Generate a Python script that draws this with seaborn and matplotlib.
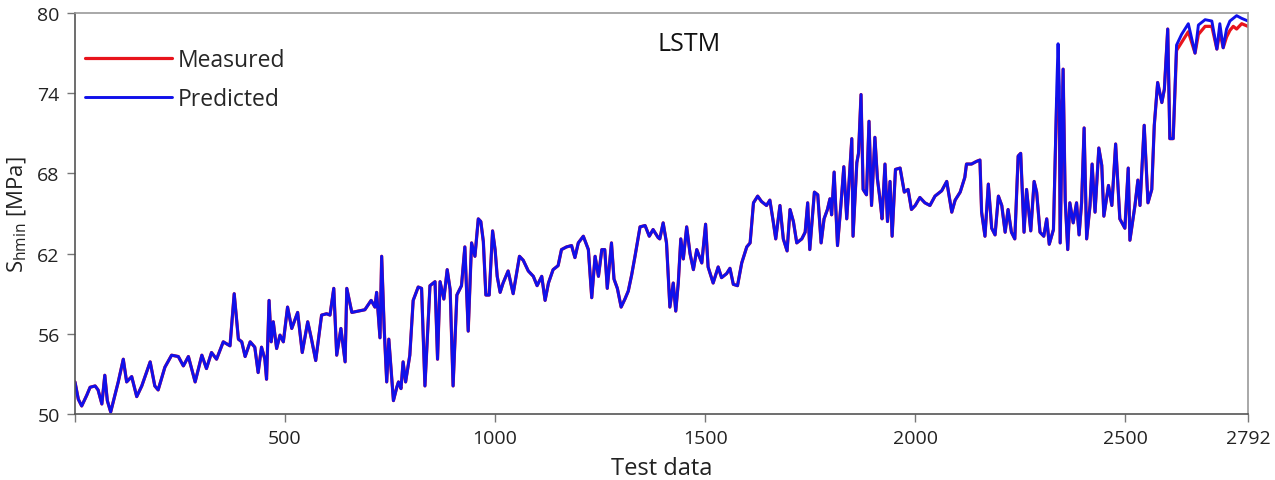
import numpy as np
import pandas as pd
import matplotlib
matplotlib.use("Agg")
import matplotlib.pyplot as plt
import seaborn as sns

# Test data index and S_hmin values
# --- part where measured and predicted overlap (0 .. 2319)
head_idx = [0, 8, 16, 28, 36, 48, 55, 64, 71, 77, 85, 91, 103, 115, 123, 135, 147, 159, 179, 190,
            198, 214, 230, 246, 258, 270, 286, 302, 313, 325, 337, 353, 369, 379, 389, 397, 405, 417, 428, 436,
            444, 452, 456, 462,
            467, 472, 480, 488, 496, 506, 516, 530, 541, 554, 563, 573, 587, 599, 607, 616, 623, 633, 643, 647,
            659, 674, 690, 705, 714, 718, 726, 730, 736, 742, 747, 758,
            766, 770, 776, 781, 787, 797, 805, 817, 825, 833, 845, 857, 863, 869, 878, 886, 893, 900, 909, 920,
            928, 936, 944, 952, 960, 966, 972, 978, 986, 994, 1000, 1005, 1012, 1019, 1031, 1043, 1058, 1067, 1079, 1091,
            1100, 1111, 1119, 1127, 1138, 1150, 1158, 1170, 1182, 1190, 1198, 1210, 1222, 1230, 1238, 1246, 1254, 1261, 1267, 1277,
            1283, 1291, 1300, 1309, 1317, 1325, 1333, 1345, 1357, 1367, 1376, 1380, 1388,
            1392, 1400, 1408, 1416, 1424, 1430, 1436, 1442, 1448, 1456, 1464, 1472, 1480, 1492, 1501, 1507, 1519, 1531, 1539, 1551,
            1559, 1567, 1577, 1587, 1599, 1607, 1615, 1625, 1634, 1646, 1654, 1662, 1668, 1678, 1686, 1695, 1702, 1710, 1718, 1730,
            1738, 1744, 1749, 1760, 1768, 1776, 1783, 1791, 1797, 1801, 1807, 1815, 1823, 1830, 1837, 1849, 1852, 1861, 1865, 1871,
            1876, 1884, 1890, 1896, 1904, 1910, 1916, 1921, 1928, 1934, 1940, 1945, 1953, 1964, 1974, 1983, 1991,
            2000, 2011, 2023, 2035, 2047, 2063, 2075, 2087, 2095, 2107, 2118, 2122, 2134, 2146, 2154, 2158, 2166, 2174, 2182, 2190,
            2198, 2206, 2214, 2221, 2229, 2237, 2245, 2251, 2259, 2265, 2275, 2283, 2289, 2297, 2306, 2313, 2319]
shared_head = [52.4, 51.1, 50.6, 51.4, 52.0, 52.1, 51.8, 50.75, 52.9, 51.0, 50.15, 50.9, 52.4, 54.1, 52.4, 52.8, 51.3, 52.1, 53.9, 52.1,
               51.8, 53.5, 54.4, 54.3, 53.6, 54.3, 52.4, 54.4, 53.4, 54.6, 54.1, 55.4, 55.1, 59.0, 55.6, 55.4, 54.3, 55.4, 55.0, 53.1,
               55.0, 54.1, 52.6, 58.5,
               55.4, 56.9, 54.9, 55.9, 55.4, 58.0, 56.4, 57.6, 54.6, 56.9, 55.6, 54.0, 57.4, 57.5, 57.4, 59.4, 54.4, 56.4, 53.9, 59.4,
               57.6, 57.7, 57.8, 58.5, 58.0, 59.1, 55.7, 61.8, 56.4, 52.4, 55.6, 51.0,
               52.0, 52.4, 51.9, 53.9, 52.4, 54.4, 58.5, 59.5, 59.4, 52.1, 59.6, 59.9, 54.1, 59.9, 58.6, 60.8, 59.3, 52.1, 58.9, 59.6,
               62.5, 56.2, 62.8, 61.8, 64.6, 64.4, 62.9, 58.9, 58.9, 63.7, 62.3, 60.3, 59.1, 59.8, 60.7, 59.0, 61.8, 61.5, 60.7, 60.3,
               59.6, 60.3, 58.5, 59.8, 60.8, 61.1, 62.3, 62.5, 62.6, 61.7, 62.8, 63.3, 62.3, 58.7, 61.8, 60.3, 62.3, 62.3, 59.4, 62.8,
               60.1, 59.4, 58.0, 58.6, 59.2, 60.4, 61.8, 64.0, 64.1, 63.3, 63.8, 63.6, 63.2,
               63.1, 64.3, 62.8, 58.0, 59.8, 57.7, 59.8, 63.1, 61.6, 64.0, 62.0, 60.8, 62.3, 61.3, 64.2, 61.0, 59.8, 61.0, 60.2, 60.5,
               60.9, 59.7, 59.6, 61.3, 62.5, 62.8, 65.8, 66.3, 65.9, 65.6, 66.0, 64.4, 63.1, 65.6, 63.1, 62.2, 65.3, 64.4, 62.8, 63.1,
               63.6, 65.8, 62.3, 66.6, 66.4, 62.8, 64.6, 65.3, 66.1, 64.9, 68.1, 62.6, 65.6, 68.5, 64.6, 70.6, 63.3, 68.8, 69.5, 73.9,
               66.8, 66.4, 71.9, 65.6, 70.7, 67.6, 66.1, 64.6, 68.7, 64.4, 67.4, 63.3, 68.3, 68.4, 66.6, 66.8, 65.3,
               65.6, 66.2, 65.8, 65.6, 66.3, 66.7, 67.4, 65.1, 66.0, 66.6, 67.7, 68.7, 68.7, 68.9, 69.0, 65.1, 63.3, 67.2, 63.9, 63.4,
               66.3, 65.6, 63.6, 65.3, 63.6, 63.1, 69.3, 69.5, 63.6, 66.8, 63.7, 67.4, 66.6, 63.6, 63.3, 64.6, 62.7]

# --- part where the two curves separate (2329 .. 2792)
tail_idx = [2329, 2337, 2340, 2343, 2345, 2352, 2357, 2363, 2368, 2376, 2384, 2390, 2396, 2402, 2408, 2416, 2421, 2428, 2437, 2444,
            2449, 2460, 2468, 2477, 2487, 2499, 2507, 2511, 2523, 2530, 2535, 2545, 2554, 2563, 2569, 2577, 2587, 2593, 2601, 2606,
            2614, 2622, 2634, 2650, 2666, 2674, 2690, 2706, 2718, 2725, 2733, 2741, 2749, 2757, 2765, 2777, 2792]
measured_tail = [63.8, 73.6, 73.7, 73.4, 62.8, 75.8, 66.0, 62.3, 65.8, 64.3, 65.8, 63.4, 65.8, 71.4, 63.1, 65.6, 68.7, 65.1, 69.9, 68.6,
                 64.8, 67.1, 65.6, 70.2, 64.6, 63.9, 68.4, 63.0, 65.6, 67.5, 65.6, 71.6, 65.8, 66.8, 71.6, 74.8, 73.3, 74.3, 78.8, 70.6,
                 70.6, 77.2, 77.8, 78.6, 77.0, 78.4, 79.0, 79.0, 77.3, 78.6, 77.4, 78.2, 78.7, 79.0, 78.8, 79.2, 79.0]
predicted_tail = [63.8, 74.5, 77.7, 74.5, 62.8, 75.8, 66.0, 62.3, 65.8, 64.3, 65.8, 63.4, 65.8, 71.4, 63.1, 65.6, 68.7, 65.1, 69.9, 68.6,
                  64.8, 67.1, 65.6, 70.2, 64.6, 63.9, 68.4, 63.0, 65.6, 67.5, 65.6, 71.6, 65.8, 66.8, 71.6, 74.8, 73.3, 74.3, 78.8, 70.6,
                  70.6, 77.6, 78.4, 79.2, 77.0, 79.1, 79.5, 79.4, 77.3, 79.2, 77.4, 78.8, 79.4, 79.6, 79.8, 79.6, 79.4]

test_idx = head_idx + tail_idx
measured = shared_head + measured_tail
predicted = shared_head + predicted_tail
assert len(test_idx) == len(measured) == len(predicted)

x_ticks = [0, 500, 1000, 1500, 2000, 2500, 2792]
x_ticklabels = ["", "500", "1000", "1500", "2000", "2500", "2792"]
y_ticks = [50, 56, 62, 68, 74, 80]

sns.set_style("white")
plt.rcParams['font.family'] = ['Open Sans', 'DejaVu Sans']

df = pd.DataFrame({"idx": test_idx, "Measured": measured, "Predicted": predicted})

fig = plt.figure(figsize=(12.75, 4.81), dpi=100)
ax = fig.add_axes([0.0588, 0.1372, 0.920, 0.8337])

sns.lineplot(data=df, x="idx", y="Measured", color="#e8141c", linewidth=2.3,
             label="Measured", ax=ax, estimator=None, sort=False)
sns.lineplot(data=df, x="idx", y="Predicted", color="#1010ea", linewidth=2.1,
             label="Predicted", ax=ax, estimator=None, sort=False)

ax.set_xlim(0, 2792)
ax.set_ylim(50, 80)
ax.set_xticks(x_ticks)
ax.set_xticklabels(x_ticklabels)
ax.set_yticks(y_ticks)
ax.tick_params(axis="both", which="major", bottom=True, left=True, direction="out",
               length=6, width=1, color="#777777", labelsize=14, labelcolor="#222222", pad=5)

for side in ["left", "bottom"]:
    ax.spines[side].set_color("#555555")
    ax.spines[side].set_linewidth(1.2)
for side in ["top", "right"]:
    ax.spines[side].set_color("#999999")
    ax.spines[side].set_linewidth(1.2)

ax.set_xlabel("Test data", fontsize=17, color="#222222", labelpad=6)
ax.set_ylabel(r"S$_{\mathregular{hmin}}$ [MPa]", fontsize=16, color="#222222", labelpad=6)

ax.text(0.524, 0.923, "LSTM", transform=ax.transAxes, fontsize=18,
        ha="center", va="center", color="#111111")

ax.legend(loc="upper left", bbox_to_anchor=(0.0085, 0.912), frameon=False, fontsize=16.5,
          handlelength=3.8, handletextpad=0.25, labelspacing=0.65, borderaxespad=0, borderpad=0)

fig.savefig("out.png", dpi=100)
